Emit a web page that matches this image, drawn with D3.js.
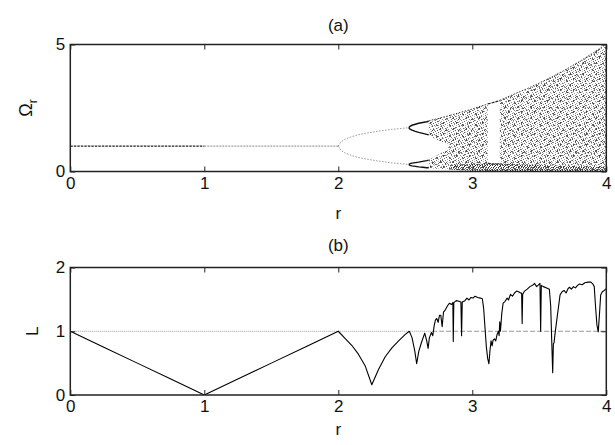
<!DOCTYPE html>
<html>
<head>
<meta charset="utf-8">
<script src="https://cdn.jsdelivr.net/npm/d3@7"></script>
<style>
  body { margin: 0; background: #fff; }
  svg { display: block; font-family: "Liberation Sans", Arial, sans-serif; }
</style>
</head>
<body>
<svg id="chart"></svg>
<script>
// ---------- data ----------
const rTicks = [0, 1, 2, 3, 4];
const omegaTicks = [0, 5];
const lTicks = [0, 1, 2];

// (a) stable fixed point
const fixedR = [0, 1, 2];
const fixedOmega = [1.0, 1.0, 1.0];

// (a) period 2
const period2R = [2.0, 2.02, 2.05, 2.1, 2.15, 2.2, 2.3, 2.4, 2.5, 2.526];
const period2Upper = [1.0, 1.17, 1.27, 1.37, 1.45, 1.5, 1.59, 1.66, 1.71, 1.725];
const period2Lower = [1.0, 0.83, 0.73, 0.63, 0.55, 0.5, 0.41, 0.34, 0.29, 0.275];

// (a) period 4 (and the short period 8 stretch)
const period4R = [2.526, 2.535, 2.55, 2.575, 2.6, 2.63, 2.66, 2.675];
const period4A = [1.725, 1.78, 1.82, 1.86, 1.9, 1.93, 1.96, 1.98];
const period4B = [1.725, 1.67, 1.63, 1.58, 1.54, 1.5, 1.46, 1.44];
const period4C = [0.275, 0.31, 0.33, 0.35, 0.37, 0.4, 0.43, 0.45];
const period4D = [0.275, 0.24, 0.22, 0.2, 0.18, 0.165, 0.15, 0.145];

// (a) two chaotic bands before they merge
const twoBandR = [2.675, 2.7, 2.725, 2.75, 2.775, 2.8, 2.82, 2.835];
const upperBandTop = [1.99, 2.03, 2.06, 2.09, 2.13, 2.16, 2.19, 2.21];
const upperBandBottom = [1.42, 1.34, 1.28, 1.22, 1.15, 1.09, 1.04, 1.0];
const lowerBandTop = [0.47, 0.54, 0.6, 0.67, 0.76, 0.85, 0.95, 1.0];
const lowerBandBottom = [0.145, 0.127, 0.115, 0.104, 0.094, 0.084, 0.078, 0.074];

// (a) single chaotic band, split by the period 3 window
const chaosR1 = [2.835, 2.9, 3.0, 3.05, 3.1, 3.115];
const chaosTop1 = [2.21, 2.31, 2.46, 2.55, 2.63, 2.66];
const chaosBottom1 = [0.074, 0.052, 0.031, 0.024, 0.017, 0.015];

const chaosR2 = [3.205, 3.3, 3.4, 3.5, 3.6, 3.7, 3.8, 3.9, 4.0];
const chaosTop2 = [2.8, 3.02, 3.24, 3.48, 3.74, 4.02, 4.33, 4.66, 5.02];
const chaosBottom2 = [0.008, 0.005, 0.003, 0.002, 0.001, 0, 0, 0, 0];

// (a) dense strip of points close to zero
const denseR = [2.835, 2.9, 3.0, 3.1, 3.2, 3.3, 3.5, 3.7, 3.9, 4.0];
const denseBottom = [0.074, 0.052, 0.031, 0.017, 0.009, 0.005, 0.002, 0, 0, 0];
const denseTop = [0.26, 0.28, 0.3, 0.32, 0.33, 0.3, 0.26, 0.22, 0.2, 0.2];

// (a) period 3 window
const windowR = [3.115, 3.14, 3.165, 3.19, 3.205];
const windowTop = [2.66, 2.69, 2.73, 2.77, 2.8];
const windowMid = [0.33, 0.3, 0.29, 0.3, 0.32];
const windowLow = [0.015, 0.013, 0.011, 0.01, 0.009];

// (b) L against r
const lyapR = [
  0, 0.25, 0.5, 0.75, 1, 1.25, 1.5, 1.75, 2,
  2.05, 2.1, 2.15, 2.2, 2.25, 2.3, 2.35, 2.4, 2.45, 2.5, 2.53,
  2.55, 2.57, 2.585, 2.6, 2.62, 2.645, 2.66, 2.67, 2.68, 2.695,
  2.705, 2.715, 2.725, 2.735, 2.745, 2.755, 2.765, 2.775, 2.785, 2.8,
  2.815, 2.83, 2.845, 2.855, 2.858, 2.862, 2.88, 2.9, 2.915, 2.92,
  2.925, 2.945, 2.96, 2.975, 2.99, 3.005, 3.02, 3.04, 3.06, 3.075,
  3.085, 3.095, 3.105, 3.115, 3.124, 3.132, 3.14, 3.148, 3.155, 3.165,
  3.175, 3.185, 3.195, 3.2, 3.205, 3.21, 3.22, 3.23, 3.245, 3.26,
  3.27, 3.285, 3.3, 3.315, 3.33, 3.345, 3.36, 3.368, 3.372, 3.376,
  3.39, 3.41, 3.43, 3.45, 3.465, 3.48, 3.49, 3.505, 3.51, 3.515,
  3.53, 3.555, 3.575, 3.585, 3.592, 3.6, 3.605, 3.61, 3.618, 3.635,
  3.655, 3.67, 3.685, 3.7, 3.715, 3.725, 3.74, 3.755, 3.77, 3.785,
  3.8, 3.82, 3.84, 3.865, 3.885, 3.9, 3.91, 3.92, 3.93, 3.94,
  3.95, 3.958, 3.97, 3.985, 4.0
];
const lyapL = [
  1, 0.75, 0.5, 0.25, 0, 0.25, 0.5, 0.75, 1,
  0.89, 0.78, 0.64, 0.46, 0.16, 0.4, 0.6, 0.74, 0.85, 0.95, 1.0,
  0.9, 0.7, 0.49, 0.68, 0.82, 0.97, 0.85, 0.73, 0.9, 0.98,
  0.93, 1.08, 1.18, 1.2, 1.14, 1.25, 1.25, 1.07, 1.3, 1.34,
  1.4, 1.44, 1.42, 1.45, 0.84, 1.45, 1.48, 1.47, 1.46, 0.93,
  1.46, 1.48, 1.52, 1.49, 1.53, 1.52, 1.55, 1.53, 1.52, 1.51,
  1.35, 1.05, 0.75, 0.57, 0.49, 0.7, 0.85, 0.77, 0.86, 0.88,
  0.85, 0.95, 1.0, 0.93, 1.15, 1.0, 1.28, 1.44, 1.47, 1.52,
  1.49, 1.58, 1.55, 1.6, 1.63, 1.62, 1.6, 1.6, 1.12, 1.58,
  1.63, 1.66, 1.7, 1.72, 1.75, 1.7, 1.72, 1.75, 1.0, 1.72,
  1.7, 1.68, 1.66, 1.4, 0.9, 0.35, 0.8, 0.82, 0.97, 1.25,
  1.57, 1.62, 1.64, 1.6, 1.67, 1.69, 1.66, 1.7, 1.68, 1.72,
  1.74, 1.73, 1.76, 1.77, 1.77, 1.74, 1.7, 1.38, 1.1, 0.99,
  1.3, 1.57, 1.62, 1.64, 1.67
];
const thresholdL = 1;

// ---------- layout ----------
const width = 615;
const height = 445;
const plotLeft = 70.3;
const plotRight = 606.3;
const panelA = { top: 44.5, bottom: 171.5 };
const panelB = { top: 267.5, bottom: 395 };
const tickLen = 5;
const fontSize = 17;

const svg = d3.select("#chart").attr("width", width).attr("height", height);

const x = d3.scaleLinear().domain([0, 4]).range([plotLeft, plotRight]);
const yA = d3.scaleLinear().domain([0, 5]).range([panelA.bottom, panelA.top]);
const yB = d3.scaleLinear().domain([0, 2]).range([panelB.bottom, panelB.top]);

const zip = (...cols) => cols[0].map((_, i) => cols.map(c => c[i]));

// speckle textures for the chaotic regions
const defs = svg.append("defs");
const speckle = (id, w, h, dots) => {
  const p = defs.append("pattern")
    .attr("id", id)
    .attr("width", w)
    .attr("height", h)
    .attr("patternUnits", "userSpaceOnUse");
  dots.forEach(([dx, dy, c]) => {
    p.append("rect").attr("x", dx).attr("y", dy)
      .attr("width", 1).attr("height", 1).attr("fill", c);
  });
};
speckle("speckleLight", 9, 9, [
  [0, 0, "#555"], [3, 0, "#aaa"], [6, 1, "#777"], [8, 0, "#bbb"],
  [1, 2, "#888"], [4, 2, "#666"], [7, 3, "#999"], [2, 3, "#bbb"],
  [0, 4, "#aaa"], [5, 4, "#555"], [8, 5, "#888"], [3, 5, "#777"],
  [1, 6, "#666"], [6, 6, "#aaa"], [4, 7, "#888"], [8, 7, "#666"],
  [0, 8, "#999"], [2, 8, "#777"], [6, 8, "#bbb"], [5, 2, "#bbb"]
]);
// coarser layer to break the regularity into clumps
speckle("speckleClump", 13, 11, [
  [1, 1, "#444"], [2, 1, "#666"], [1, 2, "#555"],
  [7, 3, "#555"], [8, 4, "#444"], [7, 4, "#777"],
  [11, 7, "#444"], [10, 8, "#666"], [11, 8, "#555"],
  [4, 8, "#555"], [3, 9, "#444"], [5, 9, "#888"],
  [9, 0, "#666"], [12, 2, "#777"], [0, 6, "#666"], [6, 10, "#777"]
]);
speckle("speckleDark", 5, 5, [
  [0, 0, "#222"], [2, 0, "#555"], [4, 1, "#333"], [1, 2, "#444"],
  [3, 2, "#222"], [0, 3, "#666"], [2, 4, "#333"], [4, 4, "#555"],
  [1, 4, "#777"], [3, 3, "#888"]
]);

const clip = (id, panel) => defs.append("clipPath").attr("id", id)
  .append("rect")
  .attr("x", plotLeft).attr("y", panel.top)
  .attr("width", plotRight - plotLeft).attr("height", panel.bottom - panel.top);
clip("clipA", panelA);
clip("clipB", panelB);

// ---------- frame, ticks, labels ----------
const drawFrame = (panel, y, yTicks) => {
  const g = svg.append("g");
  const fmt = d3.format("d");

  const bottom = g.append("g")
    .attr("transform", `translate(0, ${panel.bottom})`)
    .call(d3.axisBottom(x).tickValues(rTicks).tickFormat(fmt)
      .tickSizeInner(-tickLen).tickSizeOuter(0).tickPadding(5));
  const top = g.append("g")
    .attr("transform", `translate(0, ${panel.top})`)
    .call(d3.axisTop(x).tickValues(rTicks).tickSizeInner(-tickLen).tickSizeOuter(0).tickFormat(""));
  const left = g.append("g")
    .attr("transform", `translate(${plotLeft}, 0)`)
    .call(d3.axisLeft(y).tickValues(yTicks).tickFormat(fmt)
      .tickSizeInner(-tickLen).tickSizeOuter(0).tickPadding(5));
  const right = g.append("g")
    .attr("transform", `translate(${plotRight}, 0)`)
    .call(d3.axisRight(y).tickValues(yTicks).tickSizeInner(-tickLen).tickSizeOuter(0).tickFormat(""));

  [bottom, top, left, right].forEach(a => {
    a.select(".domain").remove();
    a.selectAll("line").attr("stroke", "#222").attr("stroke-width", 1);
    a.selectAll("text")
      .attr("font-size", fontSize)
      .attr("font-family", "Liberation Sans, Arial, sans-serif")
      .attr("fill", "#111");
  });

  g.append("rect")
    .attr("x", plotLeft).attr("y", panel.top)
    .attr("width", plotRight - plotLeft).attr("height", panel.bottom - panel.top)
    .attr("fill", "none")
    .attr("stroke", "#222")
    .attr("stroke-width", 1.5);
};

const addText = (txt, tx, ty) => svg.append("text")
  .attr("x", tx).attr("y", ty)
  .attr("text-anchor", "middle")
  .attr("font-size", fontSize)
  .attr("fill", "#111")
  .text(txt);

const midX = (plotLeft + plotRight) / 2;

// ---------- panel (a) ----------
const gA = svg.append("g").attr("clip-path", "url(#clipA)");

const bandArea = d3.area()
  .x(d => x(d[0]))
  .y0(d => yA(d[1]))
  .y1(d => yA(d[2]));

const lineA = d3.line().x(d => x(d[0])).y(d => yA(d[1]));

const bands = [
  zip(twoBandR, upperBandBottom, upperBandTop),
  zip(twoBandR, lowerBandBottom, lowerBandTop),
  zip(chaosR1, chaosBottom1, chaosTop1),
  zip(chaosR2, chaosBottom2, chaosTop2)
];
["url(#speckleLight)", "url(#speckleClump)"].forEach(fill => {
  bands.forEach(band => {
    gA.append("path").attr("d", bandArea(band)).attr("fill", fill);
  });
});

gA.append("path")
  .attr("d", bandArea(zip(denseR, denseBottom, denseTop)))
  .attr("fill", "url(#speckleDark)");

// outer edges of the chaotic region
[
  zip(twoBandR, upperBandTop),
  zip(chaosR1, chaosTop1),
  zip(chaosR2, chaosTop2)
].forEach(edge => {
  gA.append("path").attr("d", lineA(edge))
    .attr("fill", "none").attr("stroke", "#333")
    .attr("stroke-width", 1).attr("stroke-dasharray", "1.5,1.5");
});

// fixed point: darker where r < 1
gA.append("path")
  .attr("d", lineA(zip(fixedR.slice(0, 2), fixedOmega.slice(0, 2))))
  .attr("fill", "none").attr("stroke", "#222")
  .attr("stroke-width", 1.2).attr("stroke-dasharray", "2.5,1");
gA.append("path")
  .attr("d", lineA(zip(fixedR.slice(1), fixedOmega.slice(1))))
  .attr("fill", "none").attr("stroke", "#888")
  .attr("stroke-width", 1).attr("stroke-dasharray", "2,1");

[period2Upper, period2Lower].forEach(branch => {
  gA.append("path")
    .attr("d", lineA(zip(period2R, branch)))
    .attr("fill", "none").attr("stroke", "#999")
    .attr("stroke-width", 1).attr("stroke-dasharray", "1.5,1.5");
});

[period4A, period4B, period4C, period4D].forEach(branch => {
  gA.append("path")
    .attr("d", lineA(zip(period4R, branch)))
    .attr("fill", "none").attr("stroke", "#111")
    .attr("stroke-width", 1.4);
});

[windowTop, windowMid, windowLow].forEach(branch => {
  gA.append("path")
    .attr("d", lineA(zip(windowR, branch)))
    .attr("fill", "none").attr("stroke", "#222")
    .attr("stroke-width", 1.2).attr("stroke-dasharray", "3,1");
});

drawFrame(panelA, yA, omegaTicks);
addText("(a)", midX, 31);
addText("r", midX, 219);

const omegaLabel = svg.append("text")
  .attr("x", 32).attr("y", 108)
  .attr("text-anchor", "middle")
  .attr("font-size", fontSize + 1)
  .attr("fill", "#111")
  .attr("transform", "rotate(-90, 32, 108)");
omegaLabel.append("tspan").text("Ω");
omegaLabel.append("tspan").attr("font-size", 12).attr("dy", 5).text("r");

// ---------- panel (b) ----------
const gB = svg.append("g").attr("clip-path", "url(#clipB)");
const lineB = d3.line().x(d => x(d[0])).y(d => yB(d[1]));

gB.append("path")
  .attr("d", lineB([[0, thresholdL], [2.7, thresholdL]]))
  .attr("stroke", "#999").attr("stroke-width", 1)
  .attr("stroke-dasharray", "1,1");
gB.append("path")
  .attr("d", lineB([[2.7, thresholdL], [4, thresholdL]]))
  .attr("stroke", "#999").attr("stroke-width", 1)
  .attr("stroke-dasharray", "5,2");

gB.append("path")
  .attr("d", lineB(zip(lyapR, lyapL)))
  .attr("fill", "none")
  .attr("stroke", "#000")
  .attr("stroke-width", 1.1)
  .attr("stroke-linejoin", "round");

drawFrame(panelB, yB, lTicks);
addText("(b)", midX, 251);
addText("L", 32, yB(1)).attr("transform", `rotate(-90, 32, ${yB(1)})`).attr("dy", 6);
addText("r", midX, 435);
</script>
</body>
</html>
